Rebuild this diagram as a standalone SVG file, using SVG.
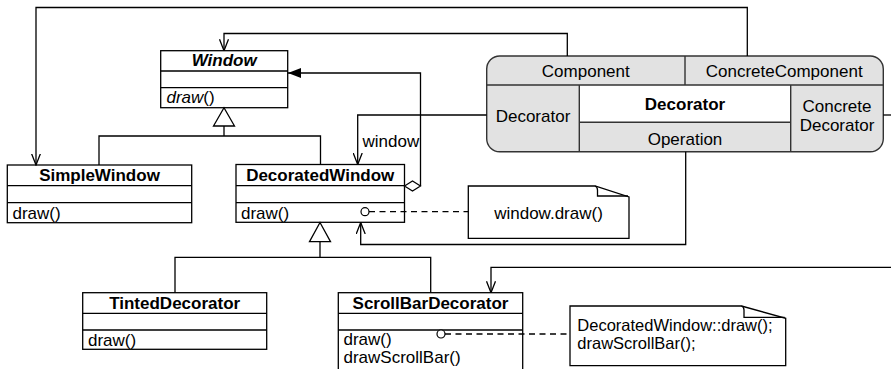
<svg xmlns="http://www.w3.org/2000/svg" width="891" height="369" viewBox="0 0 891 369">
<style>
  text { font-family: "Liberation Sans", Arial, sans-serif; font-size: 17px; fill: #000; }
  .b { font-weight: bold; }
  .c { text-anchor: middle; }
  .box { fill: #fff; stroke: #000; stroke-width: 1.3; }
  .sep { stroke: #000; stroke-width: 1.3; fill: none; }
  .ln { fill: none; stroke: #000; stroke-width: 1.3; }
  .dash { fill: none; stroke: #000; stroke-width: 1.3; stroke-dasharray: 6 4.5; }
  .pat { fill: #e2e2e2; stroke: #333; stroke-width: 1.4; }
  .psep { stroke: #333; stroke-width: 1.4; fill: none; }
  .note { fill: #fff; stroke: #000; stroke-width: 1.3; }
  .nt { font-size: 16.5px; }
</style>
<defs>
  <marker id="open" viewBox="0 0 12 10" refX="11.5" refY="5" markerWidth="12" markerHeight="10" markerUnits="userSpaceOnUse" orient="auto">
    <path d="M0,0.5 L11.5,5 L0,9.5" fill="none" stroke="#000" stroke-width="1.3"/>
  </marker>
  <marker id="filled" viewBox="0 0 13 10" refX="13" refY="5" markerWidth="13" markerHeight="10" markerUnits="userSpaceOnUse" orient="auto">
    <path d="M0,0 L13,5 L0,10 Z" fill="#000"/>
  </marker>
</defs>

<g id="Window">
  <rect class="box" x="160.7" y="50.7" width="127" height="57"/>
  <path class="sep" d="M160.7,71 H287.7 M160.7,87.7 H287.7"/>
  <text class="b c" x="224.2" y="66" font-style="italic">Window</text>
  <text x="166.5" y="103.3"><tspan font-style="italic">draw</tspan>()</text>
</g>

<g id="SimpleWindow">
  <rect class="box" x="7.3" y="165" width="184.4" height="57.7"/>
  <path class="sep" d="M7.3,185.7 H191.7 M7.3,202.7 H191.7"/>
  <text class="b c" x="99.5" y="180.5">SimpleWindow</text>
  <text x="12.5" y="219">draw()</text>
</g>

<g id="DecoratedWindow">
  <rect class="box" x="236" y="164.5" width="168.5" height="57.8"/>
  <path class="sep" d="M236,185.7 H404.5 M236,202.7 H404.5"/>
  <text class="b c" x="320.2" y="180.5">DecoratedWindow</text>
  <text x="241" y="219">draw()</text>
</g>

<g id="TintedDecorator">
  <rect class="box" x="82.7" y="292.7" width="184" height="56.6"/>
  <path class="sep" d="M82.7,313.3 H266.7 M82.7,330 H266.7"/>
  <text class="b c" x="174.7" y="308.5">TintedDecorator</text>
  <text x="88" y="345.5">draw()</text>
</g>

<g id="ScrollBarDecorator">
  <rect class="box" x="338.3" y="292.7" width="184.4" height="90"/>
  <path class="sep" d="M338.3,313.3 H522.7 M338.3,330 H522.7"/>
  <text class="b c" x="430.5" y="308.5">ScrollBarDecorator</text>
  <text x="343.5" y="344.5">draw()</text>
  <text x="343.5" y="363.3">drawScrollBar()</text>
</g>

<g id="note-window-draw">
  <path class="note" d="M468.3,186 H595 L629,197 V238.3 H468.3 Z"/>
  <path class="sep" d="M595,186 Q597.5,187 597.5,190 V196 H628"/>
  <text class="c" x="548.5" y="219.3">window.draw()</text>
</g>

<g id="note-scrollbar">
  <path class="note" d="M570,306 H741.5 L785.7,318.3 V365.7 H570 Z"/>
  <path class="sep" d="M741.5,306 Q744,307 744,310 V317.3 H784.7"/>
  <text class="nt" x="577.3" y="331">DecoratedWindow::draw();</text>
  <text class="nt" x="577.3" y="348.5">drawScrollBar();</text>
</g>

<g id="pattern-legend">
  <rect class="pat" x="486.7" y="56" width="396.6" height="95.7" rx="13" ry="13"/>
  <rect x="579.3" y="85" width="211.4" height="37.3" fill="#fff"/>
  <path class="psep" d="M486.7,85 H883.3 M685,56 V85 M579.3,85 V151.7 M790.7,85 V151.7 M579.3,122.3 H790.7"/>
  <text class="c" x="585.8" y="77">Component</text>
  <text class="c" x="784.2" y="77">ConcreteComponent</text>
  <text class="c" x="533" y="121.5">Decorator</text>
  <text class="b c" x="685" y="110">Decorator</text>
  <text class="c" x="685" y="145">Operation</text>
  <text class="c" x="837" y="111.7">Concrete</text>
  <text class="c" x="837" y="131">Decorator</text>
</g>

<g id="connectors">
  <path class="ln" d="M747.3,56 V7.5 H36 V165" marker-end="url(#open)"/>
  <path class="ln" d="M567.3,56 V33.5 H224 V50.7" marker-end="url(#open)"/>
  <path class="ln" d="M420.5,186 V73 H288" marker-end="url(#filled)"/>
  <polygon points="404.5,186 412.5,181 420.5,186 412.5,191" fill="#fff" stroke="#000" stroke-width="1.2"/>
  <path class="ln" d="M486.7,115 H357.7 V164.5" marker-end="url(#open)"/>
  <path class="ln" d="M883.3,115 H891"/>
  <path class="ln" d="M891,267.3 H491 V292.7" marker-end="url(#open)"/>
  <path class="ln" d="M685.7,151.7 V244.5 H360.7 V222.5" marker-end="url(#open)"/>
  <path class="ln" d="M224,126 V136 M99,165 V136 H320.5 V164.5"/>
  <polygon points="224,107.7 213.5,126 234.5,126" fill="#fff" stroke="#000" stroke-width="1.3"/>
  <path class="ln" d="M320,241.7 V257.3 M175,292.7 V257.3 H430.7 V292.7"/>
  <polygon points="320,222.5 309.5,241.7 330.5,241.7" fill="#fff" stroke="#000" stroke-width="1.3"/>
  <path class="dash" d="M369,211.7 H468.3"/>
  <circle cx="365" cy="211.7" r="4" fill="#fff" stroke="#000" stroke-width="1.2"/>
  <path class="dash" d="M445,334 H570"/>
  <circle cx="441" cy="334" r="4" fill="#fff" stroke="#000" stroke-width="1.2"/>
  <text x="362.5" y="146.5">window</text>
</g>
</svg>
